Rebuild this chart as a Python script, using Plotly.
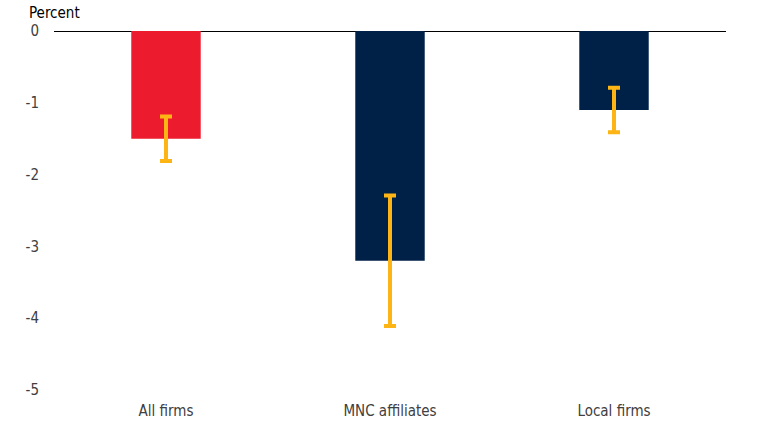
import plotly.graph_objects as go

categories = ["All firms", "MNC affiliates", "Local firms"]
values = [-1.5, -3.2, -1.1]
errors = [0.31, 0.91, 0.31]
bar_colors = ["#EC1C2E", "#002147", "#002147"]
y_ticks = [0, -1, -2, -3, -4, -5]
y_labels = ["0", "-1", "-2", "-3", "-4", "-5"]

fig = go.Figure()
fig.add_trace(go.Bar(
    x=categories, y=values,
    marker=dict(color=bar_colors, line=dict(width=0)),
    error_y=dict(type="data", array=errors, visible=True,
                 color="#FDB515", thickness=4, width=6),
    width=0.31,
))

font_name = "DejaVu Sans Condensed, Roboto, sans-serif"
fig.update_layout(
    width=780, height=439,
    margin=dict(l=54, r=54, t=31, b=49),
    plot_bgcolor="white", paper_bgcolor="white",
    showlegend=False,
    font=dict(family=font_name, size=15, color="#404040"),
    xaxis=dict(showgrid=False, showline=False, ticks="", tickfont=dict(size=15),
               ticklabelstandoff=10),
    yaxis=dict(range=[-5, 0], tickvals=y_ticks, ticktext=y_labels,
               showgrid=False, showline=False,
               zeroline=True, zerolinecolor="#000000", zerolinewidth=1,
               ticks="", ticklabelstandoff=14),
    annotations=[dict(text="Percent", xref="paper", yref="paper", x=-0.039, y=1.0,
                      xanchor="left", yanchor="bottom", yshift=8, borderpad=0,
                      showarrow=False, font=dict(size=15, color="#000000"))],
)

# drop the default 8px body margin so the figure fills the window
fig.write_html("out.html", config={"displayModeBar": False},
               post_script="document.body.style.margin='0';")
